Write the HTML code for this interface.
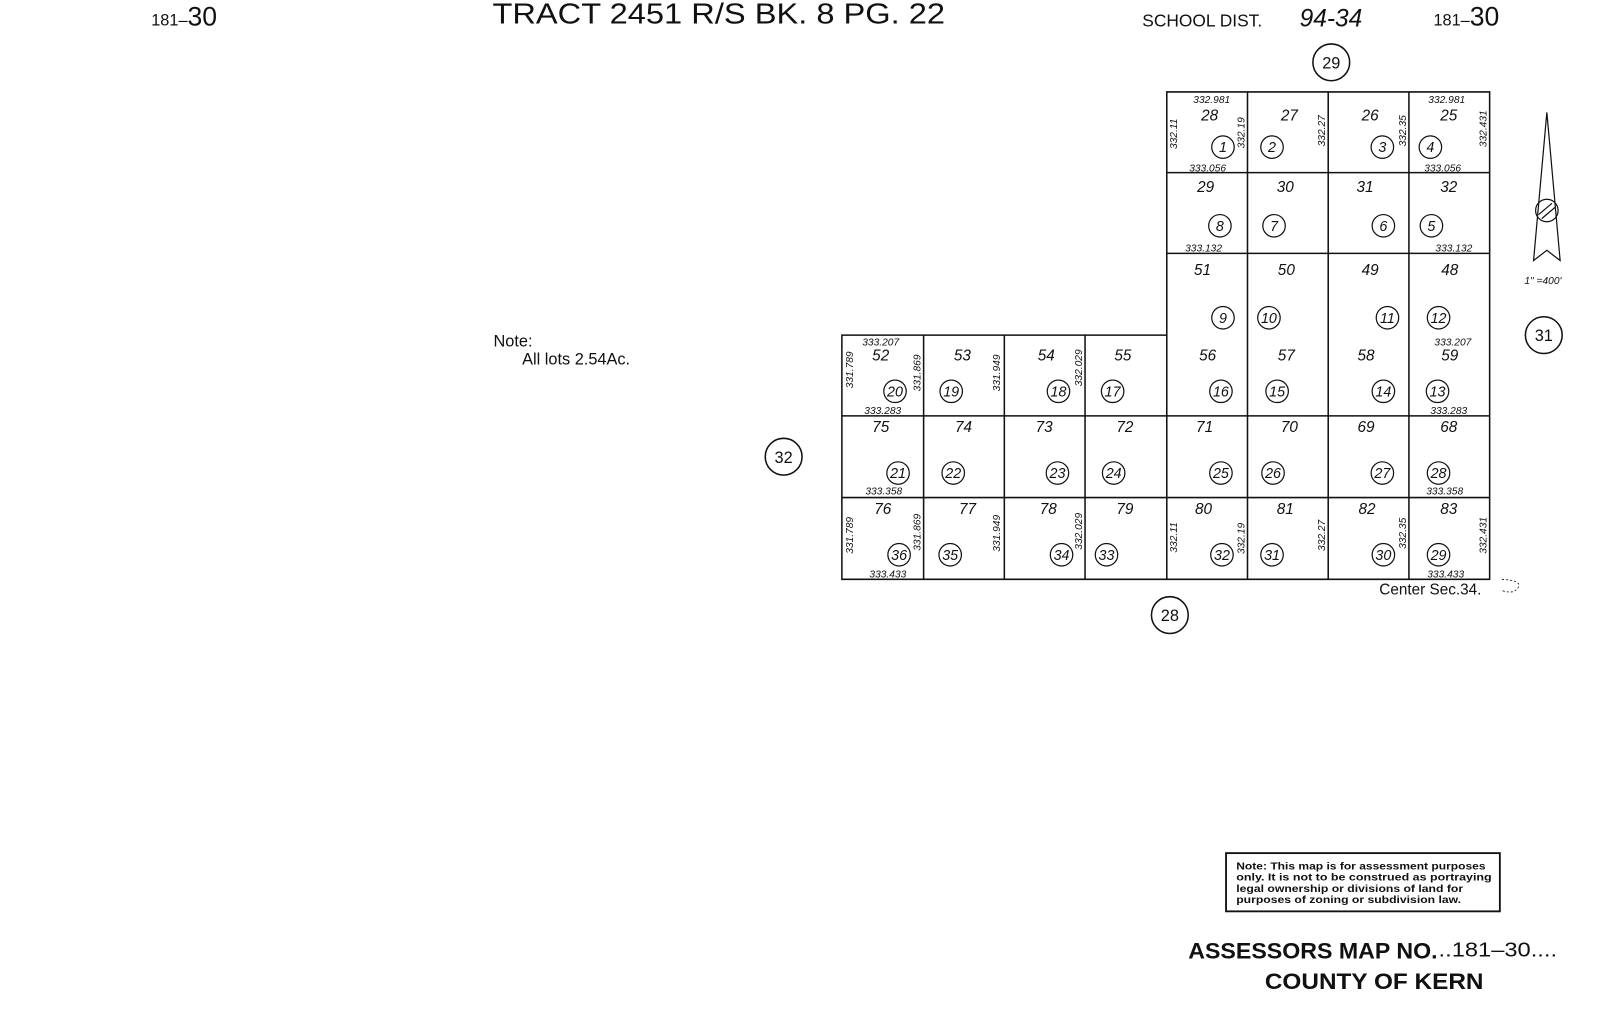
<!DOCTYPE html>
<html><head><meta charset="utf-8"><style>
html,body{margin:0;padding:0;background:#fff;}
svg{display:block}
text{font-family:"Liberation Sans",sans-serif;fill:#111}
.l{font-size:15px;font-style:italic}
.c{font-size:14px;font-style:italic;text-anchor:middle}
.d{font-size:10px;font-style:italic}
</style></head><body>
<svg width="1600" height="1018" viewBox="0 0 1600 1018" xmlns="http://www.w3.org/2000/svg">
<g transform="scale(1.0217)">
<g stroke="#111" stroke-width="1.5" fill="none">
<path d="M1142 90H1458V567H824V328H1142Z"/>
<path d="M1142 169H1458M1142 248H1458M824 407H1458M824 487H1458"/>
<path d="M1221 90V567M1300 90V567M1379 90V567M904 328V567M983 328V567M1062 328V567M1142 328V567"/>
<circle cx="1303" cy="61" r="18"/><circle cx="1511" cy="328" r="18"/><circle cx="767" cy="447" r="18"/><circle cx="1145" cy="602" r="18"/>
<g stroke-width="1.2">
<circle cx="1197" cy="144" r="11"/><circle cx="1245" cy="144" r="11"/><circle cx="1353" cy="144" r="11"/><circle cx="1400" cy="144" r="11"/>
<circle cx="1194" cy="221" r="11"/><circle cx="1247" cy="221" r="11"/><circle cx="1354" cy="221" r="11"/><circle cx="1401" cy="221" r="11"/>
<circle cx="1197" cy="311" r="11"/><circle cx="1242" cy="311" r="11"/><circle cx="1358" cy="311" r="11"/><circle cx="1408" cy="311" r="11"/>
<circle cx="876" cy="383" r="11"/><circle cx="931" cy="383" r="11"/><circle cx="1036" cy="383" r="11"/><circle cx="1089" cy="383" r="11"/><circle cx="1195" cy="383" r="11"/><circle cx="1250" cy="383" r="11"/><circle cx="1354" cy="383" r="11"/><circle cx="1407" cy="383" r="11"/>
<circle cx="879" cy="463" r="11"/><circle cx="933" cy="463" r="11"/><circle cx="1035" cy="463" r="11"/><circle cx="1090" cy="463" r="11"/><circle cx="1195" cy="463" r="11"/><circle cx="1246" cy="463" r="11"/><circle cx="1353" cy="463" r="11"/><circle cx="1408" cy="463" r="11"/>
<circle cx="880" cy="543" r="11"/><circle cx="930" cy="543" r="11"/><circle cx="1039" cy="543" r="11"/><circle cx="1083" cy="543" r="11"/><circle cx="1196" cy="543" r="11"/><circle cx="1245" cy="543" r="11"/><circle cx="1354" cy="543" r="11"/><circle cx="1408" cy="543" r="11"/>
</g>
<path d="M1514 110L1501 255L1514 245L1527 255Z" stroke-width="1.2"/>
<circle cx="1514" cy="206" r="11" stroke-width="1.2"/>
<path d="M1506 210L1519 199M1509 214L1522 203" stroke-width="1.2"/>
<rect x="1200" y="835" width="268" height="57" stroke-width="1.8"/>
<path d="M1470 567Q1490 568 1486 575Q1482 582 1470 578" stroke-width="0.8" stroke-dasharray="2 2"/>
</g>
<g class="c">
<text x="1303" y="67" style="font-style:normal;font-size:16px">29</text>
<text x="1511" y="334" style="font-style:normal;font-size:16px">31</text>
<text x="767" y="453" style="font-style:normal;font-size:16px">32</text>
<text x="1145" y="608" style="font-style:normal;font-size:16px">28</text>
<text x="1197" y="149">1</text><text x="1245" y="149">2</text><text x="1353" y="149">3</text><text x="1400" y="149">4</text>
<text x="1194" y="226">8</text><text x="1247" y="226">7</text><text x="1354" y="226">6</text><text x="1401" y="226">5</text>
<text x="1197" y="316">9</text><text x="1242" y="316">10</text><text x="1358" y="316">11</text><text x="1408" y="316">12</text>
<text x="876" y="388">20</text><text x="931" y="388">19</text><text x="1036" y="388">18</text><text x="1089" y="388">17</text><text x="1195" y="388">16</text><text x="1250" y="388">15</text><text x="1354" y="388">14</text><text x="1407" y="388">13</text>
<text x="879" y="468">21</text><text x="933" y="468">22</text><text x="1035" y="468">23</text><text x="1090" y="468">24</text><text x="1195" y="468">25</text><text x="1246" y="468">26</text><text x="1353" y="468">27</text><text x="1408" y="468">28</text>
<text x="880" y="548">36</text><text x="930" y="548">35</text><text x="1039" y="548">34</text><text x="1083" y="548">33</text><text x="1196" y="548">32</text><text x="1245" y="548">31</text><text x="1354" y="548">30</text><text x="1408" y="548">29</text>
</g>
<g class="l" text-anchor="middle">
<text x="1184" y="118">28</text><text x="1262" y="118">27</text><text x="1341" y="118">26</text><text x="1418" y="118">25</text>
<text x="1180" y="188">29</text><text x="1258" y="188">30</text><text x="1336" y="188">31</text><text x="1418" y="188">32</text>
<text x="1177" y="269">51</text><text x="1259" y="269">50</text><text x="1341" y="269">49</text><text x="1419" y="269">48</text>
<text x="862" y="353">52</text><text x="942" y="353">53</text><text x="1024" y="353">54</text><text x="1099" y="353">55</text><text x="1182" y="353">56</text><text x="1259" y="353">57</text><text x="1337" y="353">58</text><text x="1419" y="353">59</text>
<text x="862" y="423">75</text><text x="943" y="423">74</text><text x="1022" y="423">73</text><text x="1101" y="423">72</text><text x="1179" y="423">71</text><text x="1262" y="423">70</text><text x="1337" y="423">69</text><text x="1418" y="423">68</text>
<text x="864" y="503">76</text><text x="947" y="503">77</text><text x="1026" y="503">78</text><text x="1101" y="503">79</text><text x="1178" y="503">80</text><text x="1258" y="503">81</text><text x="1338" y="503">82</text><text x="1418" y="503">83</text>
</g>
<g class="d" text-anchor="middle">
<text x="1186" y="101">332.981</text><text x="1416" y="101">332.981</text>
<text x="1182" y="168">333.056</text><text x="1412" y="168">333.056</text>
<text x="1178" y="246">333.132</text><text x="1423" y="246">333.132</text>
<text x="862" y="338">333.207</text><text x="1422" y="338">333.207</text>
<text x="864" y="405">333.283</text><text x="1418" y="405">333.283</text>
<text x="865" y="484">333.358</text><text x="1414" y="484">333.358</text>
<text x="869" y="565">333.433</text><text x="1415" y="565">333.433</text>
<text transform="translate(1152,131) rotate(-90)">332.11</text>
<text transform="translate(1218,130) rotate(-90)">332.19</text>
<text transform="translate(1297,128) rotate(-90)">332.27</text>
<text transform="translate(1376,128) rotate(-90)">332.35</text>
<text transform="translate(1455,126) rotate(-90)">332.431</text>
<text transform="translate(835,362) rotate(-90)">331.789</text>
<text transform="translate(901,365) rotate(-90)">331.869</text>
<text transform="translate(979,365) rotate(-90)">331.949</text>
<text transform="translate(1059,360) rotate(-90)">332.029</text>
<text transform="translate(835,524) rotate(-90)">331.789</text>
<text transform="translate(901,521) rotate(-90)">331.869</text>
<text transform="translate(979,522) rotate(-90)">331.949</text>
<text transform="translate(1059,520) rotate(-90)">332.029</text>
<text transform="translate(1152,526) rotate(-90)">332.11</text>
<text transform="translate(1218,527) rotate(-90)">332.19</text>
<text transform="translate(1297,524) rotate(-90)">332.27</text>
<text transform="translate(1376,522) rotate(-90)">332.35</text>
<text transform="translate(1455,524) rotate(-90)">332.431</text>
</g>
<text x="148" y="25" style="font-size:16px">181–<tspan style="font-size:26px">30</tspan></text>
<text x="1403" y="25" style="font-size:16px">181–<tspan style="font-size:26px">30</tspan></text>
<text x="482" y="23" style="font-size:28px" textLength="443" lengthAdjust="spacingAndGlyphs">TRACT 2451 R/S BK. 8 PG. 22</text>
<text x="1118" y="26" style="font-size:17px">SCHOOL DIST.</text>
<text x="1272" y="26" style="font-size:24px;font-style:italic">94-34</text>
<text x="1492" y="278" style="font-size:10px;font-style:italic">1" =400'</text>
<text x="1350" y="582" style="font-size:15px">Center Sec.34.</text>
<text x="483" y="339" style="font-size:16px">Note:</text>
<text x="511" y="357" style="font-size:16px">All lots 2.54Ac.</text>
<g style="font-size:10px;font-weight:bold">
<text x="1210" y="851" textLength="244" lengthAdjust="spacingAndGlyphs">Note: This map is for assessment purposes</text>
<text x="1210" y="862" textLength="250" lengthAdjust="spacingAndGlyphs">only. It is not to be construed as portraying</text>
<text x="1210" y="873" textLength="222" lengthAdjust="spacingAndGlyphs">legal ownership or divisions of land for</text>
<text x="1210" y="884" textLength="220" lengthAdjust="spacingAndGlyphs">purposes of zoning or subdivision law.</text>
</g>
<text x="1163" y="938" style="font-size:22px;font-weight:bold" textLength="244" lengthAdjust="spacingAndGlyphs">ASSESSORS MAP NO.</text>
<text x="1408" y="936" style="font-size:20px" textLength="116" lengthAdjust="spacingAndGlyphs">..181–30....</text>
<text x="1238" y="968" style="font-size:22px;font-weight:bold" textLength="214" lengthAdjust="spacingAndGlyphs">COUNTY OF KERN</text>
</g>
</svg>
</body></html>
